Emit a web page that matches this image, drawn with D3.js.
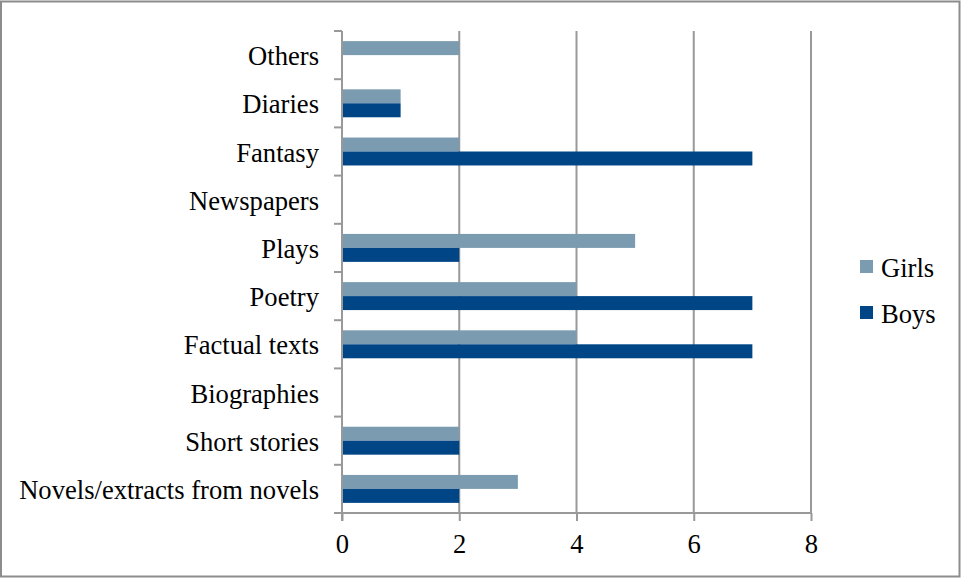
<!DOCTYPE html>
<html>
<head>
<meta charset="utf-8">
<script src="https://cdn.jsdelivr.net/npm/d3@7"></script>
<style>
  html, body { margin: 0; padding: 0; background: #fff; }
  svg { display: block; }
  text { font-family: "Liberation Serif", "Times New Roman", serif; fill: #000; }
</style>
</head>
<body>
<svg id="chart" width="961" height="578"></svg>
<script>
// Reading preferences by text type (number of pupils)
const categories = [
  "Novels/extracts from novels", "Short stories", "Biographies", "Factual texts",
  "Poetry", "Plays", "Newspapers", "Fantasy", "Diaries", "Others"
];
const girls = [3, 2, 0, 4, 4, 5, 0, 2, 1, 2];
const boys  = [2, 2, 0, 7, 7, 2, 0, 7, 1, 0];
const seriesNames = ["Girls", "Boys"];
const seriesColors = ["#7b9bb0", "#004586"];
const xTicks = [0, 2, 4, 6, 8];

const FS = 26.6;
const svg = d3.select("#chart");
const W = 961, H = 578;

// outer frame
svg.append("rect")
  .attr("x", 1).attr("y", 1.5).attr("width", W - 2.5).attr("height", H - 3)
  .attr("fill", "none").attr("stroke", "#8c8c8c").attr("stroke-width", 2);

const plot = { left: 342, right: 811, top: 31, bottom: 513 };

const x = d3.scaleLinear().domain([0, 8]).range([plot.left, plot.right]);
// categories listed bottom-to-top
const y = d3.scaleBand().domain(categories.slice().reverse())
  .range([plot.top, plot.bottom]).paddingInner(0.42).paddingOuter(0.21);
const inner = d3.scaleBand().domain(seriesNames).range([0, y.bandwidth()]);

const gridColor = "#999";

// vertical grid lines
svg.append("g").selectAll("line")
  .data(xTicks.filter(d => d > 0))
  .join("line")
  .attr("x1", d => x(d)).attr("x2", d => x(d))
  .attr("y1", plot.top).attr("y2", plot.bottom)
  .attr("stroke", gridColor).attr("stroke-width", 2);

// bars
const rows = categories.map((c, i) => ({ c, vals: [girls[i], boys[i]] }));
const grp = svg.append("g").selectAll("g").data(rows).join("g")
  .attr("transform", d => `translate(0,${y(d.c)})`);
grp.selectAll("rect")
  .data(d => d.vals.map((v, j) => ({ v, s: seriesNames[j], color: seriesColors[j] })))
  .join("rect")
  .attr("x", x(0))
  .attr("y", d => inner(d.s))
  .attr("width", d => x(d.v) - x(0))
  .attr("height", inner.bandwidth())
  .attr("fill", d => d.color);

// y axis (category boundaries as ticks)
const yAxis = d3.axisLeft(y).tickSize(0).tickPadding(23);
const gy = svg.append("g").attr("transform", `translate(${plot.left},1.5)`).call(yAxis);
gy.select(".domain").remove();
gy.selectAll("text").attr("font-size", FS).attr("font-family", "Liberation Serif");

const step = (plot.bottom - plot.top) / categories.length;
const bounds = d3.range(categories.length + 1).map(i => plot.top + i * step);
svg.append("g").selectAll("line").data(bounds).join("line")
  .attr("x1", plot.left - 8).attr("x2", plot.left)
  .attr("y1", d => d).attr("y2", d => d)
  .attr("stroke", gridColor).attr("stroke-width", 2);
svg.append("line")
  .attr("x1", plot.left).attr("x2", plot.left)
  .attr("y1", plot.top).attr("y2", plot.bottom + 8)
  .attr("stroke", gridColor).attr("stroke-width", 2);

// x axis
const xAxis = d3.axisBottom(x).tickValues(xTicks).tickSize(8).tickPadding(13)
  .tickFormat(d3.format("d"));
const gx = svg.append("g").attr("transform", `translate(0,${plot.bottom})`).call(xAxis);
gx.select(".domain").attr("stroke", gridColor).attr("stroke-width", 2)
  .attr("d", `M${plot.left - 8},0H${plot.right}`);
gx.selectAll(".tick line").attr("stroke", gridColor).attr("stroke-width", 2);
gx.selectAll("text").attr("font-size", FS).attr("font-family", "Liberation Serif");

// legend
const legend = svg.append("g").attr("transform", "translate(860,260)");
const li = legend.selectAll("g").data(seriesNames).join("g")
  .attr("transform", (d, i) => `translate(0,${i * 46})`);
li.append("rect").attr("width", 13).attr("height", 13)
  .attr("fill", (d, i) => seriesColors[i]);
li.append("text").attr("x", 21).attr("y", 7.5).attr("dy", "0.35em")
  .attr("font-size", FS).text(d => d);
</script>
</body>
</html>
